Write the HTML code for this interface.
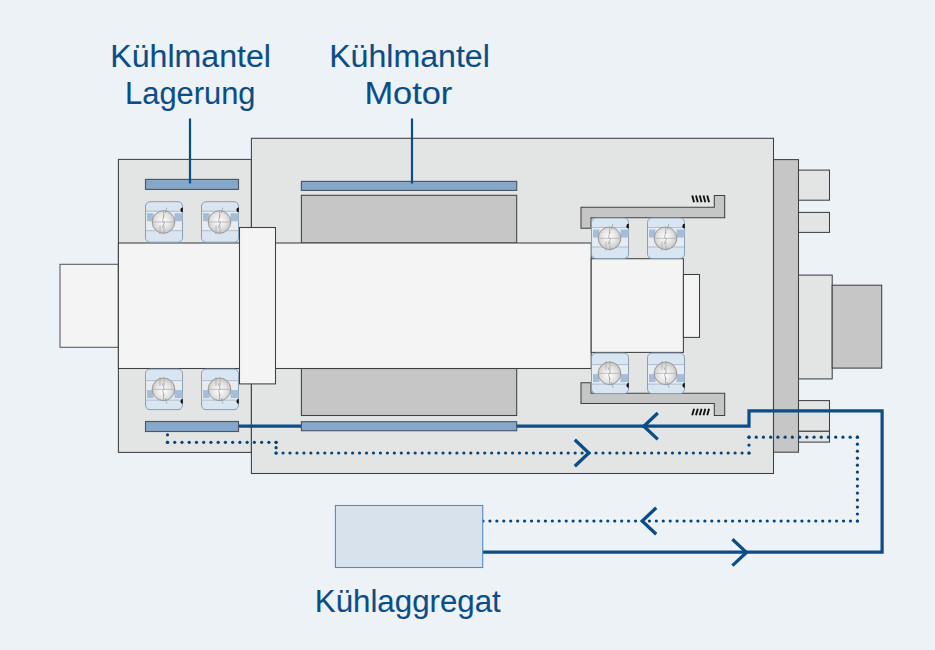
<!DOCTYPE html>
<html><head><meta charset="utf-8">
<style>
html,body{margin:0;padding:0;background:#edf2f7;}
svg{display:block;}
text{font-family:"Liberation Sans",sans-serif;}
</style></head>
<body>
<svg width="935" height="650" viewBox="0 0 935 650">
<defs>
<radialGradient id="ball" cx="0.48" cy="0.45" r="0.6">
<stop offset="0" stop-color="#ffffff"/>
<stop offset="0.55" stop-color="#e4e4e4"/>
<stop offset="1" stop-color="#bdbdbd"/>
</radialGradient>
<g id="brg">
<rect x="0.5" y="0.5" width="37" height="40.5" rx="4.5" fill="#d9e5f1" stroke="#8098ae" stroke-width="0.9"/>
<rect x="1" y="10" width="36" height="19.5" fill="#e6ecf2"/>
<line x1="1" y1="10" x2="37" y2="10" stroke="#9fb4c8" stroke-width="0.8"/>
<line x1="1" y1="29.5" x2="37" y2="29.5" stroke="#9fb4c8" stroke-width="0.8"/>
<rect x="2" y="12" width="6.5" height="8" fill="#a6bdd8"/>
<rect x="29.5" y="12" width="8" height="8" fill="#a6bdd8"/>
<circle cx="18.5" cy="20.8" r="11.3" fill="url(#ball)" stroke="#8a8a8a" stroke-width="0.8"/>
<path d="M7.2 20.8h22.6M18.5 9.5v7M15 24v9M19 24v9" stroke="#a09a94" stroke-width="0.6" fill="none"/>
<path d="M22 6.5l-2 5.5M19 14l-1.5 6l2 1l-2.5 6" stroke="#8a8a8a" stroke-width="0.6" fill="none"/>
<path d="M37.8 6.3a2.4 2.4 0 0 0 0 4.8z" fill="#111"/>
</g>
</defs>

<!-- labels -->
<g fill="#0b4d86" stroke="#0b4d86" stroke-width="0.1" font-size="31.4" text-anchor="middle">
<text x="190.6" y="66.6" textLength="160.7" lengthAdjust="spacingAndGlyphs">Kühlmantel</text>
<text x="190.3" y="104.1" textLength="130.4" lengthAdjust="spacingAndGlyphs">Lagerung</text>
<text x="409.5" y="66.6" textLength="160.7" lengthAdjust="spacingAndGlyphs">Kühlmantel</text>
<text x="408.4" y="103.7" textLength="87.9" lengthAdjust="spacingAndGlyphs">Motor</text>
<text x="407.8" y="612" textLength="186" lengthAdjust="spacingAndGlyphs">Kühlaggregat</text>
</g>

<g stroke="#3d4145" stroke-width="1.05">
<!-- shaft left stub -->
<rect x="60" y="264.3" width="58.4" height="83" fill="#f4f4f4" stroke="#55595c"/>
<!-- left bearing housing -->
<rect x="118.4" y="159.4" width="133" height="293" fill="#e3e4e4"/>
<!-- main housing -->
<rect x="251.4" y="138.3" width="522.1" height="335.2" fill="#e3e4e4"/>
<!-- flange & right parts -->
<rect x="773.5" y="159.6" width="25" height="292.6" fill="#c6c6c6"/>
<rect x="798.5" y="170.1" width="31" height="30.1" fill="#e3e4e4"/>
<rect x="798.5" y="212.4" width="31" height="20" fill="#e3e4e4"/>
<rect x="798.5" y="275.1" width="33.7" height="103.8" fill="#e3e4e4"/>
<rect x="832.2" y="285.2" width="49.5" height="82.9" fill="#c6c6c6"/>
<rect x="798.5" y="400.6" width="31" height="30.7" fill="#e3e4e4"/>
<rect x="798.5" y="431.3" width="31" height="10.8" fill="#e3e4e4"/>
<!-- stator -->
<rect x="301.4" y="195.3" width="215.3" height="47.7" fill="#c6c6c6"/>
<rect x="301.4" y="368.5" width="215.3" height="47" fill="#c6c6c6"/>
<!-- main shaft -->
<rect x="118.4" y="243" width="472.8" height="125.5" fill="#f4f4f4"/>
<!-- collar -->
<rect x="239.5" y="227.5" width="36" height="156.4" fill="#f4f4f4"/>
<!-- right shaft -->
<rect x="591.2" y="258.7" width="92.2" height="93.7" fill="#f4f4f4"/>
<rect x="683.4" y="274.5" width="16.1" height="62.9" fill="#f4f4f4"/>
<!-- sleeves -->
<path d="M581 207.3H714.3V195.5H724.7V217.8H591V228.2H581Z" fill="#c6c6c6"/>
<path d="M581 382.8H591V393.3H724.7V415.5H714.3V403.5H581Z" fill="#c6c6c6"/>
</g>
<g stroke="#111" stroke-width="1.85">
<path d="M692.20 195.4L694.10 202.2M692.20 415.3L694.10 408.7M695.95 195.4L697.85 202.2M695.95 415.3L697.85 408.7M699.70 195.4L701.60 202.2M699.70 415.3L701.60 408.7M703.45 195.4L705.35 202.2M703.45 415.3L705.35 408.7M707.20 195.4L709.10 202.2M707.20 415.3L709.10 408.7"/>
</g>

<!-- bearings -->
<use href="#brg" x="145" y="201.2"/>
<use href="#brg" x="201" y="201.2"/>
<use href="#brg" transform="translate(145 410.1) scale(1 -1)"/>
<use href="#brg" transform="translate(201 410.1) scale(1 -1)"/>
<use href="#brg" x="591" y="217.5"/>
<use href="#brg" x="647" y="217.5"/>
<use href="#brg" transform="translate(591 394.1) scale(1 -1)"/>
<use href="#brg" transform="translate(647 394.1) scale(1 -1)"/>

<!-- blue solid path -->
<path d="M483 552.2H882.1V410.9H749V426.2H238" fill="none" stroke="#0b4d86" stroke-width="3.2"/>
<!-- dotted path -->
<g fill="#0a4476">
<circle cx="167.50" cy="434.80" r="1.60"/>
<circle cx="167.50" cy="442.30" r="1.60"/>
<circle cx="167.50" cy="442.30" r="1.60"/>
<circle cx="174.74" cy="442.30" r="1.60"/>
<circle cx="181.98" cy="442.30" r="1.60"/>
<circle cx="189.22" cy="442.30" r="1.60"/>
<circle cx="196.46" cy="442.30" r="1.60"/>
<circle cx="203.70" cy="442.30" r="1.60"/>
<circle cx="210.94" cy="442.30" r="1.60"/>
<circle cx="218.18" cy="442.30" r="1.60"/>
<circle cx="225.42" cy="442.30" r="1.60"/>
<circle cx="232.66" cy="442.30" r="1.60"/>
<circle cx="239.90" cy="442.30" r="1.60"/>
<circle cx="247.14" cy="442.30" r="1.60"/>
<circle cx="254.38" cy="442.30" r="1.60"/>
<circle cx="261.62" cy="442.30" r="1.60"/>
<circle cx="268.86" cy="442.30" r="1.60"/>
<circle cx="276.10" cy="442.30" r="1.60"/>
<circle cx="276.10" cy="442.30" r="1.60"/>
<circle cx="276.10" cy="447.65" r="1.60"/>
<circle cx="276.10" cy="453.00" r="1.60"/>
<circle cx="276.10" cy="453.00" r="1.60"/>
<circle cx="283.05" cy="453.00" r="1.60"/>
<circle cx="290.01" cy="453.00" r="1.60"/>
<circle cx="296.96" cy="453.00" r="1.60"/>
<circle cx="303.92" cy="453.00" r="1.60"/>
<circle cx="310.87" cy="453.00" r="1.60"/>
<circle cx="317.83" cy="453.00" r="1.60"/>
<circle cx="324.78" cy="453.00" r="1.60"/>
<circle cx="331.74" cy="453.00" r="1.60"/>
<circle cx="338.69" cy="453.00" r="1.60"/>
<circle cx="345.64" cy="453.00" r="1.60"/>
<circle cx="352.60" cy="453.00" r="1.60"/>
<circle cx="359.55" cy="453.00" r="1.60"/>
<circle cx="366.51" cy="453.00" r="1.60"/>
<circle cx="373.46" cy="453.00" r="1.60"/>
<circle cx="380.42" cy="453.00" r="1.60"/>
<circle cx="387.37" cy="453.00" r="1.60"/>
<circle cx="394.33" cy="453.00" r="1.60"/>
<circle cx="401.28" cy="453.00" r="1.60"/>
<circle cx="408.23" cy="453.00" r="1.60"/>
<circle cx="415.19" cy="453.00" r="1.60"/>
<circle cx="422.14" cy="453.00" r="1.60"/>
<circle cx="429.10" cy="453.00" r="1.60"/>
<circle cx="436.05" cy="453.00" r="1.60"/>
<circle cx="443.01" cy="453.00" r="1.60"/>
<circle cx="449.96" cy="453.00" r="1.60"/>
<circle cx="456.91" cy="453.00" r="1.60"/>
<circle cx="463.87" cy="453.00" r="1.60"/>
<circle cx="470.82" cy="453.00" r="1.60"/>
<circle cx="477.78" cy="453.00" r="1.60"/>
<circle cx="484.73" cy="453.00" r="1.60"/>
<circle cx="491.69" cy="453.00" r="1.60"/>
<circle cx="498.64" cy="453.00" r="1.60"/>
<circle cx="505.60" cy="453.00" r="1.60"/>
<circle cx="512.55" cy="453.00" r="1.60"/>
<circle cx="519.50" cy="453.00" r="1.60"/>
<circle cx="526.46" cy="453.00" r="1.60"/>
<circle cx="533.41" cy="453.00" r="1.60"/>
<circle cx="540.37" cy="453.00" r="1.60"/>
<circle cx="547.32" cy="453.00" r="1.60"/>
<circle cx="554.28" cy="453.00" r="1.60"/>
<circle cx="561.23" cy="453.00" r="1.60"/>
<circle cx="568.19" cy="453.00" r="1.60"/>
<circle cx="575.14" cy="453.00" r="1.60"/>
<circle cx="582.09" cy="453.00" r="1.60"/>
<circle cx="589.05" cy="453.00" r="1.60"/>
<circle cx="596.00" cy="453.00" r="1.60"/>
<circle cx="602.96" cy="453.00" r="1.60"/>
<circle cx="609.91" cy="453.00" r="1.60"/>
<circle cx="616.87" cy="453.00" r="1.60"/>
<circle cx="623.82" cy="453.00" r="1.60"/>
<circle cx="630.77" cy="453.00" r="1.60"/>
<circle cx="637.73" cy="453.00" r="1.60"/>
<circle cx="644.68" cy="453.00" r="1.60"/>
<circle cx="651.64" cy="453.00" r="1.60"/>
<circle cx="658.59" cy="453.00" r="1.60"/>
<circle cx="665.55" cy="453.00" r="1.60"/>
<circle cx="672.50" cy="453.00" r="1.60"/>
<circle cx="679.46" cy="453.00" r="1.60"/>
<circle cx="686.41" cy="453.00" r="1.60"/>
<circle cx="693.36" cy="453.00" r="1.60"/>
<circle cx="700.32" cy="453.00" r="1.60"/>
<circle cx="707.27" cy="453.00" r="1.60"/>
<circle cx="714.23" cy="453.00" r="1.60"/>
<circle cx="721.18" cy="453.00" r="1.60"/>
<circle cx="728.14" cy="453.00" r="1.60"/>
<circle cx="735.09" cy="453.00" r="1.60"/>
<circle cx="742.05" cy="453.00" r="1.60"/>
<circle cx="749.00" cy="453.00" r="1.60"/>
<circle cx="749.00" cy="453.00" r="1.60"/>
<circle cx="749.00" cy="445.10" r="1.60"/>
<circle cx="749.00" cy="437.20" r="1.60"/>
<circle cx="749.00" cy="437.20" r="1.60"/>
<circle cx="756.23" cy="437.20" r="1.60"/>
<circle cx="763.45" cy="437.20" r="1.60"/>
<circle cx="770.68" cy="437.20" r="1.60"/>
<circle cx="777.91" cy="437.20" r="1.60"/>
<circle cx="785.13" cy="437.20" r="1.60"/>
<circle cx="792.36" cy="437.20" r="1.60"/>
<circle cx="799.59" cy="437.20" r="1.60"/>
<circle cx="806.81" cy="437.20" r="1.60"/>
<circle cx="814.04" cy="437.20" r="1.60"/>
<circle cx="821.27" cy="437.20" r="1.60"/>
<circle cx="828.49" cy="437.20" r="1.60"/>
<circle cx="835.72" cy="437.20" r="1.60"/>
<circle cx="842.95" cy="437.20" r="1.60"/>
<circle cx="850.17" cy="437.20" r="1.60"/>
<circle cx="857.40" cy="437.20" r="1.60"/>
<circle cx="857.40" cy="437.20" r="1.60"/>
<circle cx="857.40" cy="444.18" r="1.60"/>
<circle cx="857.40" cy="451.17" r="1.60"/>
<circle cx="857.40" cy="458.15" r="1.60"/>
<circle cx="857.40" cy="465.13" r="1.60"/>
<circle cx="857.40" cy="472.12" r="1.60"/>
<circle cx="857.40" cy="479.10" r="1.60"/>
<circle cx="857.40" cy="486.08" r="1.60"/>
<circle cx="857.40" cy="493.07" r="1.60"/>
<circle cx="857.40" cy="500.05" r="1.60"/>
<circle cx="857.40" cy="507.03" r="1.60"/>
<circle cx="857.40" cy="514.02" r="1.60"/>
<circle cx="857.40" cy="521.00" r="1.60"/>
<circle cx="857.40" cy="521.00" r="1.60"/>
<circle cx="850.47" cy="521.00" r="1.60"/>
<circle cx="843.53" cy="521.00" r="1.60"/>
<circle cx="836.60" cy="521.00" r="1.60"/>
<circle cx="829.67" cy="521.00" r="1.60"/>
<circle cx="822.73" cy="521.00" r="1.60"/>
<circle cx="815.80" cy="521.00" r="1.60"/>
<circle cx="808.87" cy="521.00" r="1.60"/>
<circle cx="801.93" cy="521.00" r="1.60"/>
<circle cx="795.00" cy="521.00" r="1.60"/>
<circle cx="788.07" cy="521.00" r="1.60"/>
<circle cx="781.13" cy="521.00" r="1.60"/>
<circle cx="774.20" cy="521.00" r="1.60"/>
<circle cx="767.27" cy="521.00" r="1.60"/>
<circle cx="760.33" cy="521.00" r="1.60"/>
<circle cx="753.40" cy="521.00" r="1.60"/>
<circle cx="746.47" cy="521.00" r="1.60"/>
<circle cx="739.53" cy="521.00" r="1.60"/>
<circle cx="732.60" cy="521.00" r="1.60"/>
<circle cx="725.67" cy="521.00" r="1.60"/>
<circle cx="718.73" cy="521.00" r="1.60"/>
<circle cx="711.80" cy="521.00" r="1.60"/>
<circle cx="704.87" cy="521.00" r="1.60"/>
<circle cx="697.93" cy="521.00" r="1.60"/>
<circle cx="691.00" cy="521.00" r="1.60"/>
<circle cx="684.07" cy="521.00" r="1.60"/>
<circle cx="677.13" cy="521.00" r="1.60"/>
<circle cx="670.20" cy="521.00" r="1.60"/>
<circle cx="663.27" cy="521.00" r="1.60"/>
<circle cx="656.33" cy="521.00" r="1.60"/>
<circle cx="649.40" cy="521.00" r="1.60"/>
<circle cx="642.47" cy="521.00" r="1.60"/>
<circle cx="635.53" cy="521.00" r="1.60"/>
<circle cx="628.60" cy="521.00" r="1.60"/>
<circle cx="621.67" cy="521.00" r="1.60"/>
<circle cx="614.73" cy="521.00" r="1.60"/>
<circle cx="607.80" cy="521.00" r="1.60"/>
<circle cx="600.87" cy="521.00" r="1.60"/>
<circle cx="593.93" cy="521.00" r="1.60"/>
<circle cx="587.00" cy="521.00" r="1.60"/>
<circle cx="580.07" cy="521.00" r="1.60"/>
<circle cx="573.13" cy="521.00" r="1.60"/>
<circle cx="566.20" cy="521.00" r="1.60"/>
<circle cx="559.27" cy="521.00" r="1.60"/>
<circle cx="552.33" cy="521.00" r="1.60"/>
<circle cx="545.40" cy="521.00" r="1.60"/>
<circle cx="538.47" cy="521.00" r="1.60"/>
<circle cx="531.53" cy="521.00" r="1.60"/>
<circle cx="524.60" cy="521.00" r="1.60"/>
<circle cx="517.67" cy="521.00" r="1.60"/>
<circle cx="510.73" cy="521.00" r="1.60"/>
<circle cx="503.80" cy="521.00" r="1.60"/>
<circle cx="496.87" cy="521.00" r="1.60"/>
<circle cx="489.93" cy="521.00" r="1.60"/>
<circle cx="483.00" cy="521.00" r="1.60"/>
</g>

<!-- cooling bars -->
<g fill="#85a8ca" stroke="#4b5866" stroke-width="1.15">
<rect x="145.5" y="179.4" width="93" height="10" />
<rect x="301.4" y="181.4" width="215.3" height="9" />
<rect x="145.5" y="421.5" width="93" height="10" />
<rect x="301.4" y="421.7" width="215.3" height="9" />
</g>

<!-- leader lines -->
<path d="M190 118.4V183.6M412 118.4V183.5" stroke="#0b4d86" stroke-width="2.2"/>

<!-- arrows -->
<g fill="none" stroke="#0b4d86" stroke-width="3.3">
<path d="M657.8 413.0L643.8 426.2L657.8 439.4"/>
<path d="M574.8 439.8L588.8 453.0L574.8 466.2"/>
<path d="M656.2 507.8L642.2 521.0L656.2 534.2"/>
<path d="M732.4 539.2L746.4 552.4L732.4 565.6"/>
</g>

<!-- Kühlaggregat box -->
<rect x="335.4" y="505.5" width="147.3" height="62" fill="#d8e2ec" stroke="#5a8ab8" stroke-width="1.1"/>
</svg>
</body></html>
